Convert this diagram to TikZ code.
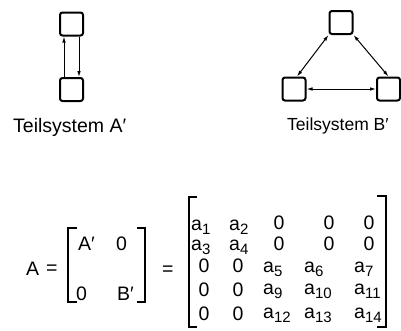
\documentclass[tikz,border=0pt]{standalone}
\usepackage{fontspec}
\setmainfont{Liberation Sans}
\usetikzlibrary{arrows.meta}
\newcommand\asub[1]{a\raisebox{-4pt}[\height][0pt]{\fontsize{15}{15}\selectfont #1}}
\tikzset{
  block/.style={draw, line width=2pt, rounded corners=2.5pt, minimum width=23pt, minimum height=23pt, inner sep=0pt},
  link/.style={line width=1pt, -{Latex[length=6pt,width=3.6pt]}},
  biglink/.style={line width=1pt, {Latex[length=6pt,width=3.6pt]}-{Latex[length=6pt,width=3.6pt]}},
  brk/.style={line width=1.6pt, line cap=butt},
  labeltext/.style={font=\fontsize{19.5}{19.5}\selectfont, anchor=base west, inner sep=0pt},
  ent/.style={font=\fontsize{19.5}{19.5}\selectfont, anchor=base, inner sep=0pt},
  aent/.style={font=\fontsize{19.5}{19.5}\selectfont, anchor=base west, inner sep=0pt},
}
\begin{document}
\begin{tikzpicture}[x=1pt,y=-1pt]
\useasboundingbox (0,0) rectangle (401,330);

% subsystem A'
\node[block] (a1) at (71.5,24) {};
\node[block] (a2) at (71.5,89.5) {};
\draw[link] ([xshift=-7.5pt]a2.north) -- ([xshift=-7.5pt]a1.south);
\draw[link] ([xshift=7.5pt]a1.south) -- ([xshift=7.5pt]a2.north);
\node[labeltext] (la) at (13,132) {Teilsystem A′};

% subsystem B'
\node[block] (b1) at (341,22.5) {};
\node[block] (b2) at (294,89) {};
\node[block] (b3) at (388.5,89) {};
\draw[biglink] (b1.south west) -- ([xshift=3pt]b2.north);
\draw[biglink] (b1.south east) -- (b3.north);
\draw[biglink] (b2.east) -- (b3.west);
\node[labeltext, font=\fontsize{17.5}{17.5}\selectfont] (lb) at (287,130) {Teilsystem B′};

% block form of A
\node[aent] (A) at (26,275) {A};
\node[aent] (eq1) at (46,274) {=};
\draw[brk] (77,228) -- (68,228) -- (68,302) -- (77,302);
\draw[brk] (137,228) -- (145,228) -- (145,302) -- (137,302);
\node[aent] (p11) at (78,250) {A′};
\node[aent] (p12) at (116,250) {0};
\node[aent] (p21) at (76,300) {0};
\node[aent] (p22) at (117,300) {B′};
\node[aent] (eq2) at (162,275) {=};

% full matrix
\draw[brk] (197,197) -- (189,197) -- (189,327) -- (197,327);
\draw[brk] (377,196) -- (386,196) -- (386,327) -- (377,327);

\node[aent] (m11) at (191,230) {\asub{1}};
\node[aent] (m12) at (229,230) {\asub{2}};
\node[ent]  (m13) at (279,229) {0};
\node[ent]  (m14) at (329,229) {0};
\node[ent]  (m15) at (369,229) {0};

\node[aent] (m21) at (191,250) {\asub{3}};
\node[aent] (m22) at (229,250) {\asub{4}};
\node[ent]  (m23) at (279,250) {0};
\node[ent]  (m24) at (329,250) {0};
\node[ent]  (m25) at (369,250) {0};

\node[ent]  (m31) at (204,272) {0};
\node[ent]  (m32) at (238,272) {0};
\node[aent] (m33) at (263,272) {\asub{5}};
\node[aent] (m34) at (304,272) {\asub{6}};
\node[aent] (m35) at (354,272) {\asub{7}};

\node[ent]  (m41) at (204,296) {0};
\node[ent]  (m42) at (238,296) {0};
\node[aent] (m43) at (263,294) {\asub{9}};
\node[aent] (m44) at (304,294) {\asub{10}};
\node[aent] (m45) at (354,294) {\asub{11}};

\node[ent]  (m51) at (204,320) {0};
\node[ent]  (m52) at (238,320) {0};
\node[aent] (m53) at (263,318) {\asub{12}};
\node[aent] (m54) at (304,318) {\asub{13}};
\node[aent] (m55) at (354,318) {\asub{14}};
\end{tikzpicture}
\end{document}
